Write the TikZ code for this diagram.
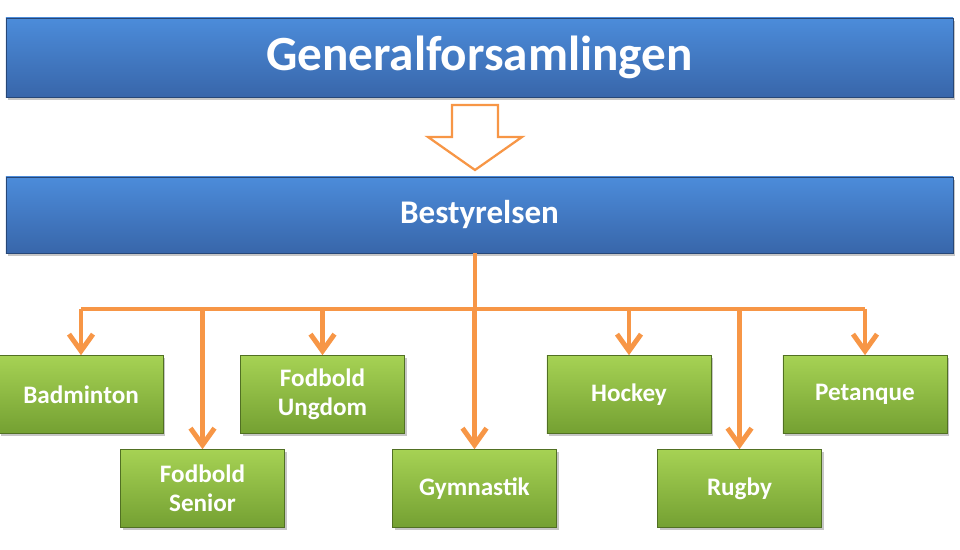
\documentclass[tikz,border=0pt]{standalone}
\usepackage{fontspec}
\setmainfont{Carlito}
\usetikzlibrary{shapes,arrows.meta,shadows}

\definecolor{barblue}{RGB}{76,140,218}
\definecolor{barbluedark}{RGB}{56,102,170}
\definecolor{boxgreen}{RGB}{166,210,84}
\definecolor{boxgreendark}{RGB}{116,160,50}
\definecolor{lineorange}{RGB}{247,150,70}

\begin{document}
\begin{tikzpicture}[x=0.025cm, y=-0.025cm, auto]
  \tikzstyle{bar} = [rectangle, draw=barbluedark!70!black, top color=barblue,
    bottom color=barbluedark, minimum width=23.675cm, text=white,
    drop shadow={shadow xshift=1.5pt, shadow yshift=-2pt, opacity=0.45}]
  \tikzstyle{club} = [rectangle, draw=boxgreendark!70!black, top color=boxgreen,
    bottom color=boxgreendark, minimum width=4.1cm, minimum height=1.95cm,
    text=white, align=center, font=\fontsize{17.9}{20.6}\selectfont\bfseries,
    drop shadow={shadow xshift=1.5pt, shadow yshift=-2pt, opacity=0.45}]
  \tikzstyle{line} = [draw, lineorange, line width=3.5pt,
    -{Straight Barb[length=0.42cm, width=0.6cm]}]
  \tikzstyle{bus} = [draw, lineorange, line width=3.5pt, line join=miter]
  \tikzstyle{hollow} = [draw=lineorange, line width=1.6pt, fill=white, line join=miter]

  \useasboundingbox (0,0) rectangle (960,550);

  % Place nodes
  \node [bar, minimum height=1.975cm, font=\fontsize{35}{40}\selectfont\bfseries]
    (gen) at (479.5,57.5) {Generalforsamlingen};
  \node [bar, minimum height=1.9cm, font=\fontsize{23.5}{28}\selectfont\bfseries]
    (bst) at (479.5,215) {Bestyrelsen};

  \node [club] (badm) at (81,394.5) {Badminton};
  \node [club] (fsen) at (202.5,488.5) {Fodbold\\Senior};
  \node [club] (fung) at (322.5,394.5) {Fodbold\\Ungdom};
  \node [club] (gym) at (474.5,488.5) {Gymnastik};
  \node [club] (hock) at (629,394.5) {Hockey};
  \node [club] (rug) at (739.5,488.5) {Rugby};
  \node [club] (pet) at (865,394.5) {Petanque};

  \coordinate (split) at (475,309);

  % Draw edges
  \path [hollow] (452,105) -- (498,105) -- (498,137) -- (522,137) -- (475,170)
    -- (428,137) -- (452,137) -- cycle;

  \path [bus] (bst.south -| split) -- (split);
  \path [bus] (badm.north |- split) -- (pet.north |- split);
  \foreach \club in {badm,fsen,fung,gym,hock,rug,pet}
    \path [line] (\club.north |- split) -- (\club.north);
\end{tikzpicture}
\end{document}
